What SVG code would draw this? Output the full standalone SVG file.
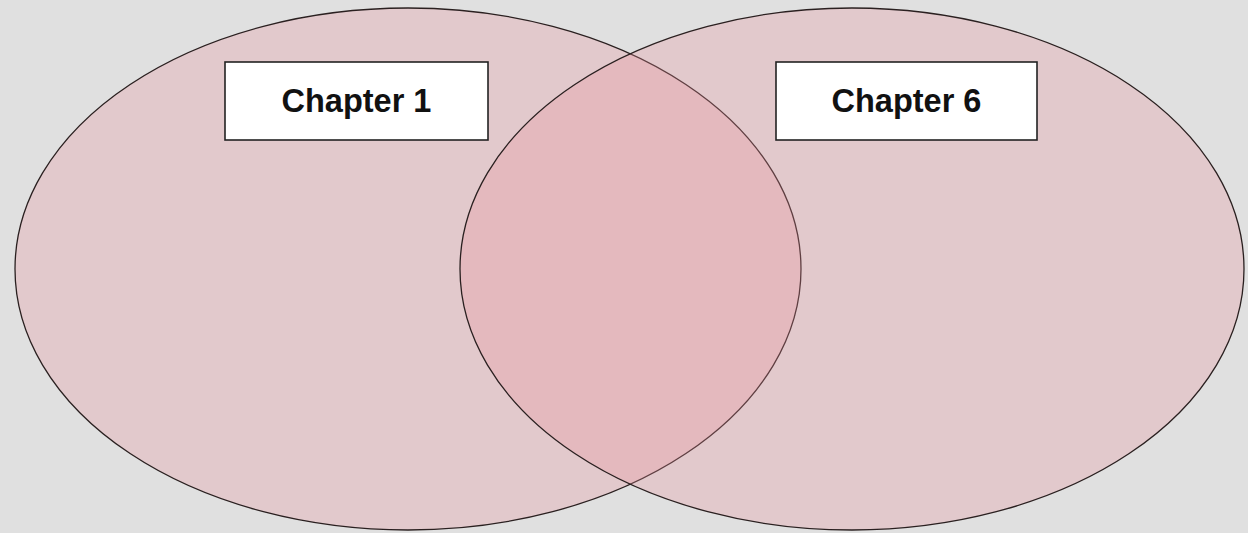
<svg xmlns="http://www.w3.org/2000/svg" width="1248" height="533" viewBox="0 0 1248 533">
<style>
.set{fill:#e88f9a;fill-opacity:0.28;stroke:#2a2020;stroke-width:1.3}
.box{fill:#ffffff;stroke:#222;stroke-width:1.6}
.lbl{font-family:"Comic Sans MS","Liberation Sans",sans-serif;font-weight:bold;font-size:32.5px;fill:#111;text-anchor:middle}
</style>
<rect x="0" y="0" width="1248" height="533" fill="#e0e0e0"/>
<g id="set-left"><ellipse class="set" cx="408" cy="269" rx="393" ry="261"/></g>
<g id="set-right"><ellipse class="set" cx="852" cy="269" rx="392" ry="261"/></g>
<g id="label-chapter1"><rect class="box" x="225" y="62" width="263" height="78"/><text class="lbl" x="356.5" y="112">Chapter 1</text></g>
<g id="label-chapter6"><rect class="box" x="776" y="62" width="261" height="78"/><text class="lbl" x="906.5" y="112">Chapter 6</text></g>
<g id="connectors"></g>
</svg>
